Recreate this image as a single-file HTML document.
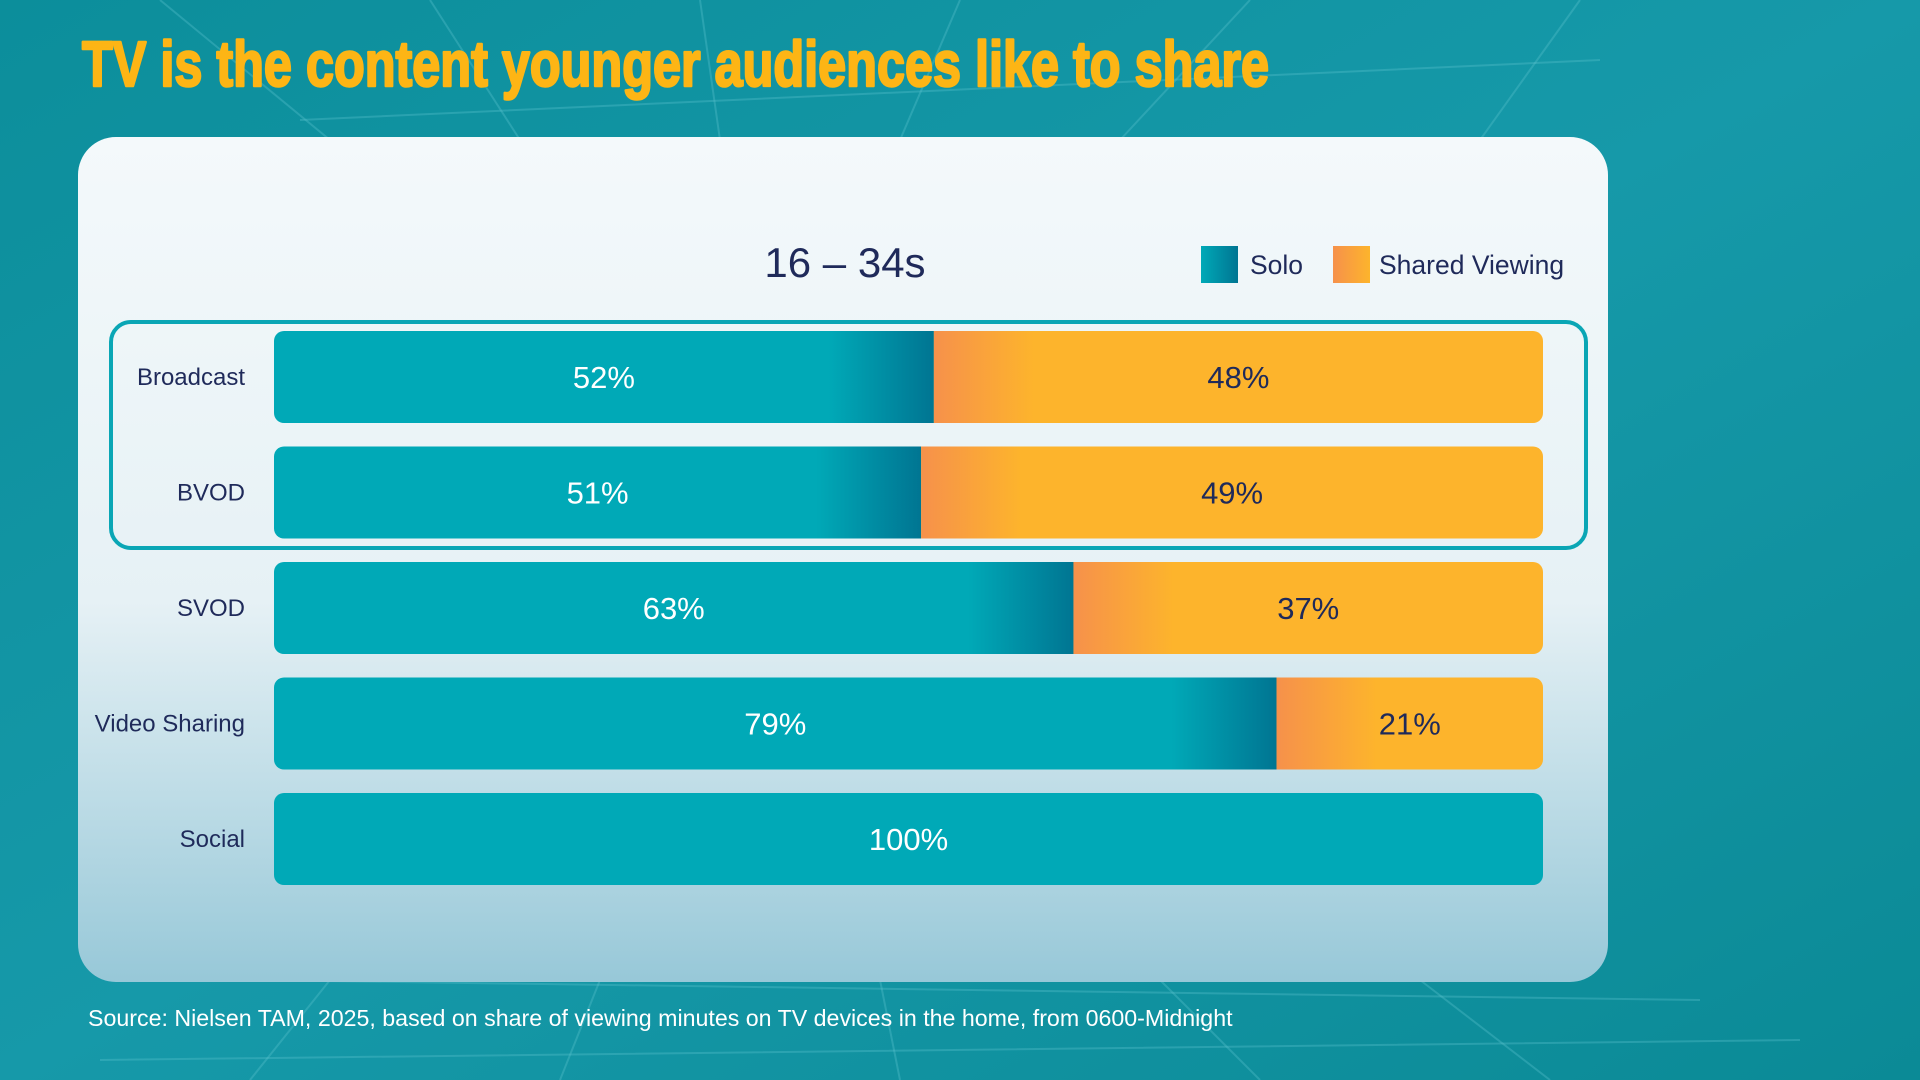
<!DOCTYPE html>
<html><head><meta charset="utf-8"><style>
html,body{margin:0;padding:0;width:1920px;height:1080px;overflow:hidden;background:#0f8f9d}
svg{display:block}
text{font-family:"Liberation Sans",sans-serif}
</style></head><body>
<svg id="chart" width="1920" height="1080" viewBox="0 0 1920 1080">
<defs>
<linearGradient id="bg" x1="0" y1="0" x2="1" y2="1">
<stop offset="0" stop-color="#0c8e9b"/><stop offset="0.5" stop-color="#1699a9"/><stop offset="1" stop-color="#0b8a96"/></linearGradient>
<linearGradient id="card" x1="0" y1="0" x2="0" y2="1">
<stop offset="0" stop-color="#f4f9fb"/><stop offset="0.55" stop-color="#e6f1f5"/><stop offset="1" stop-color="#97c8d8"/></linearGradient>
<linearGradient id="solo" x1="0" y1="0" x2="1" y2="0">
<stop offset="0" stop-color="#00a9b7"/><stop offset="1" stop-color="#007592"/></linearGradient>
<linearGradient id="shared" x1="0" y1="0" x2="1" y2="0">
<stop offset="0" stop-color="#f6914b"/><stop offset="1" stop-color="#fdb42c"/></linearGradient>
</defs>
<rect x="0" y="0" width="1920" height="1080" fill="url(#bg)"/>
<g stroke="#5cc3cf" stroke-opacity="0.35" stroke-width="2" fill="none">
<path d="M160 0 L330 140 M430 0 L520 140 M700 0 L720 140 M960 0 L900 140 M1250 0 L1120 140 M1580 0 L1480 140"/>
<path d="M300 120 L1600 60 M250 980 L1700 1000 M100 1060 L1800 1040"/>
<path d="M250 1080 L330 980 M560 1080 L600 980 M900 1080 L880 980 M1260 1080 L1160 980 M1550 1080 L1420 980"/>
</g>
<text x="82" y="86" font-size="64" font-weight="bold" fill="#fdb515" stroke="#fdb515" stroke-width="2.5" stroke-linejoin="round" textLength="1187" lengthAdjust="spacingAndGlyphs">TV is the content younger audiences like to share</text>
<rect x="78" y="137" width="1530" height="845" rx="38" fill="url(#card)"/>
<text x="845" y="277" font-size="42" fill="#1f2a5a" text-anchor="middle">16 – 34s</text>
<g>
<rect x="1201" y="246" width="37" height="37" fill="url(#solo)"/>
<text x="1250" y="274" font-size="26.5" fill="#1f2a5a">Solo</text>
<rect x="1333" y="246" width="37" height="37" fill="url(#shared)"/>
<text x="1379" y="274" font-size="26.5" fill="#1f2a5a">Shared Viewing</text>
</g>
<rect x="111" y="322" width="1475" height="226" rx="20" fill="none" stroke="#0aa6b5" stroke-width="4"/>
<g id="bars"></g>
<text x="88" y="1026" font-size="23.2" fill="#ffffff">Source: Nielsen TAM, 2025, based on share of viewing minutes on TV devices in the home, from 0600-Midnight</text>
</svg>
<script>
const categories = ["Broadcast","BVOD","SVOD","Video Sharing","Social"];
const soloValues = [52,51,63,79,100];
const sharedValues = [48,49,37,21,0];
const valueLabelsSolo = ["52%","51%","63%","79%","100%"];
const valueLabelsShared = ["48%","49%","37%","21%",""];

const NS="http://www.w3.org/2000/svg";
const g=document.getElementById('bars');
const X0=274, W=1269, Y0=331, STEP=115.5, H=92;
function xScale(v){return X0 + v/100*W;}
function yScale(i){return Y0 + i*STEP;}
function mk(tag,attrs){const e=document.createElementNS(NS,tag);for(const k in attrs)e.setAttribute(k,attrs[k]);return e;}
categories.forEach((c,i)=>{
  const y=yScale(i);
  const total=soloValues[i]+sharedValues[i];
  const clip=mk('clipPath',{id:'clip'+i});
  clip.appendChild(mk('rect',{x:X0,y:y,width:xScale(total)-X0,height:H,rx:10}));
  g.appendChild(clip);
  const row=mk('g',{'clip-path':'url(#clip'+i+')'});
  
  
  const xs=xScale(soloValues[i]);
  const solo=mk('rect',{x:X0,y:y,width:xs-X0,height:H,fill:'#00a9b7'});
  
  
  row.appendChild(solo);
  if(sharedValues[i]>0){
    const gw=Math.min(105,xs-X0);
    const gr=mk('rect',{x:xs-gw,y:y,width:gw,height:H,fill:'url(#solo)'});
    
    
    row.appendChild(gr);
    const sh=mk('rect',{x:xs,y:y,width:xScale(total)-xs,height:H,fill:'#fdb42c'});
    
    
    row.appendChild(sh);
    const sg=mk('rect',{x:xs,y:y,width:Math.min(100,xScale(total)-xs),height:H,fill:'url(#shared)'});
    
    
    row.appendChild(sg);
  }
  g.appendChild(row);
  const lab=mk('text',{x:245,y:y+H/2+8,'font-size':24,fill:'#1f2a5a','text-anchor':'end'});
  
  
  lab.textContent=c;g.appendChild(lab);
  const t1=mk('text',{x:(X0+xs)/2,y:y+H/2+11,'font-size':31,fill:'#ffffff','text-anchor':'middle'});
  
  
  t1.textContent=valueLabelsSolo[i];g.appendChild(t1);
  if(sharedValues[i]>0){
    const t2=mk('text',{x:(xs+xScale(total))/2,y:y+H/2+11,'font-size':31,fill:'#1f2a5a','text-anchor':'middle'});
    
    
    t2.textContent=valueLabelsShared[i];g.appendChild(t2);
  }
});
</script>
</body></html>
